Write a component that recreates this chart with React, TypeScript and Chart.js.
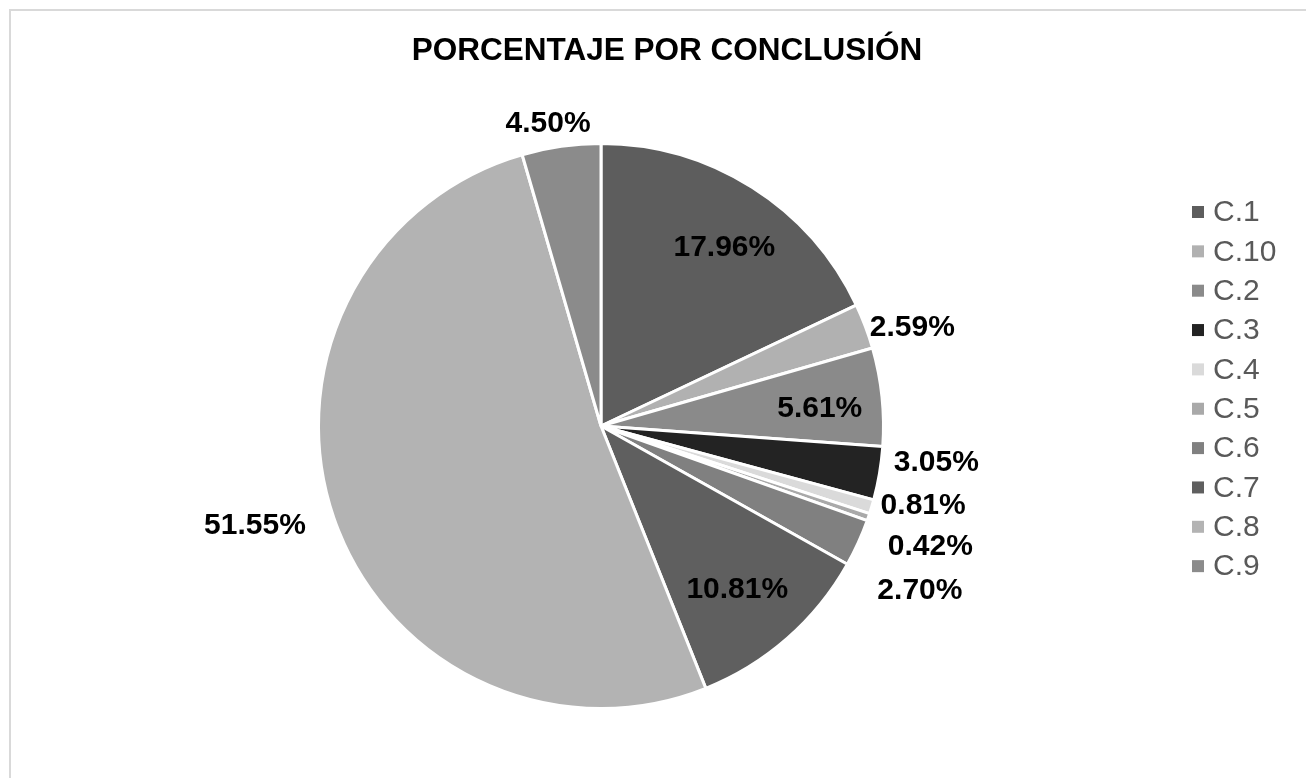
import React, { useEffect, useRef } from "react";
import { Chart, registerables } from "chart.js";

Chart.register(...registerables);

const titleText = "PORCENTAJE POR CONCLUSIÓN";
const categories = ["C.1", "C.10", "C.2", "C.3", "C.4", "C.5", "C.6", "C.7", "C.8", "C.9"];
const percentages = [17.96, 2.59, 5.61, 3.05, 0.81, 0.42, 2.7, 10.81, 51.55, 4.5];
const sliceColors = [
  "#5d5d5d",
  "#b1b1b1",
  "#8a8a8a",
  "#232323",
  "#dadada",
  "#a9a9a9",
  "#808080",
  "#5f5f5f",
  "#b3b3b3",
  "#8b8b8b",
];
// label placement (degrees clockwise from top, distance as fraction of radius)
const labelAngles = [34.5, 72.3, 85.3, 96.1, 103.7, 110.0, 117.2, 140.1, 254.0, 350.1];
const labelDistances = [0.775, 1.163, 0.781, 1.2, 1.18, 1.247, 1.276, 0.756, 1.281, 1.096];

const FONT = '"Liberation Sans", Arial, Helvetica, sans-serif';

const overlayPlugin = {
  id: "overlay",
  afterDraw(chart: any) {
    const ctx = chart.ctx;
    const meta = chart.getDatasetMeta(0);
    const arc0 = meta.data[0];
    const cx = arc0.x;
    const cy = arc0.y;
    const r = arc0.outerRadius - 1.5;

    ctx.save();
    // title
    ctx.fillStyle = "#000000";
    ctx.font = `bold 31.5px ${FONT}`;
    ctx.textAlign = "center";
    ctx.textBaseline = "middle";
    ctx.fillText(titleText, 667, 51);

    // data labels
    ctx.font = `bold 30px ${FONT}`;
    percentages.forEach((v, i) => {
      const a = (labelAngles[i] * Math.PI) / 180;
      const d = labelDistances[i] * r;
      const x = cx + Math.sin(a) * d;
      const y = cy - Math.cos(a) * d;
      ctx.fillText(v.toFixed(2) + "%", x, y + 1);
    });

    // legend
    ctx.textAlign = "left";
    ctx.font = `30px ${FONT}`;
    categories.forEach((c, i) => {
      const y = 212 + i * 39.35;
      ctx.fillStyle = sliceColors[i];
      ctx.fillRect(1192, y - 6, 12, 12);
      ctx.fillStyle = "#595959";
      ctx.fillText(c, 1213, y + 1);
    });
    ctx.restore();
  },
};

export default function App() {
  const ref = useRef<HTMLCanvasElement | null>(null);
  useEffect(() => {
    if (!ref.current) return;
    const chart = new Chart(ref.current, {
      type: "pie",
      data: {
        labels: categories,
        datasets: [
          {
            data: percentages,
            backgroundColor: sliceColors,
            borderColor: "#ffffff",
            borderWidth: 3,
          },
        ],
      },
      options: {
        responsive: false,
        animation: false,
        devicePixelRatio: 1,
        layout: { padding: { left: 317, right: 421, top: 142, bottom: 68 } },
        plugins: {
          legend: { display: false },
          tooltip: { enabled: false },
          title: { display: false },
        },
      },
      plugins: [overlayPlugin],
    });
    return () => chart.destroy();
  }, []);

  return (
    <div style={{ position: "fixed", left: 0, top: 0, width: 1306, height: 778, overflow: "hidden", background: "#ffffff" }}>
      <div
        style={{
          position: "absolute",
          left: 9,
          top: 9,
          width: 2000,
          height: 2000,
          borderLeft: "2px solid #d9d9d9",
          borderTop: "2px solid #d9d9d9",
        }}
      />
      <canvas ref={ref} width={1306} height={778} style={{ position: "absolute", left: 0, top: 0 }} />
    </div>
  );
}
